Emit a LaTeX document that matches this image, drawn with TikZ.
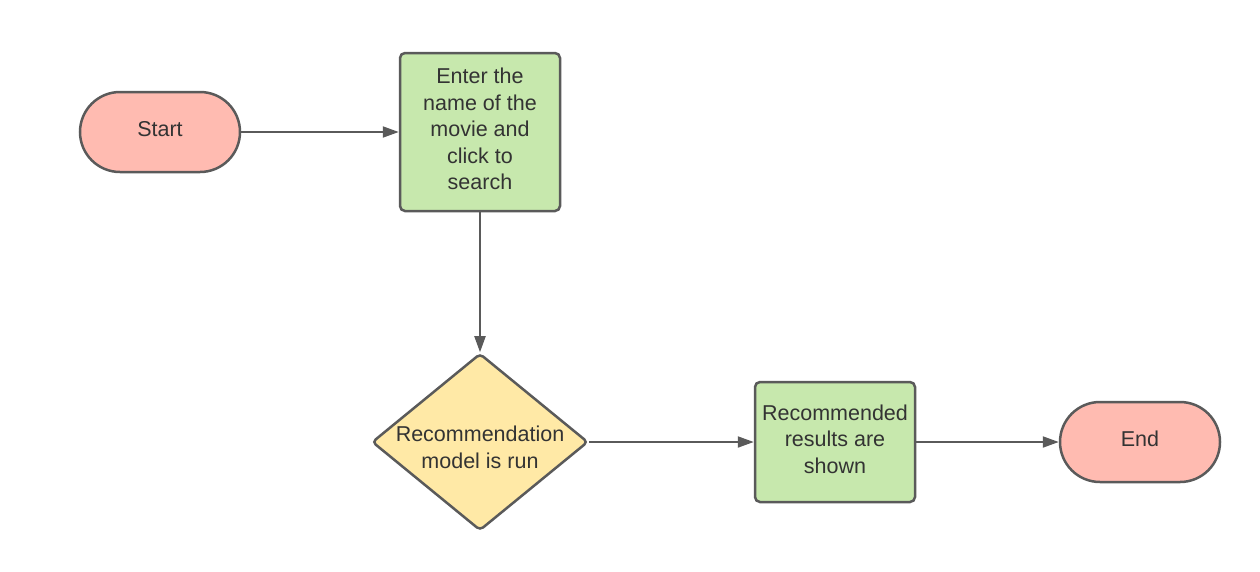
\documentclass[tikz,border=0pt]{standalone}
\usepackage{fontspec}
\setmainfont{Liberation Sans}
\usetikzlibrary{shapes.geometric,arrows.meta}
\definecolor{strokec}{HTML}{5A5A5A}
\definecolor{pinkc}{HTML}{FFBBB1}
\definecolor{greenc}{HTML}{C7E8AD}
\definecolor{yellowc}{HTML}{FFE9A6}
\definecolor{textc}{HTML}{333333}
\begin{document}
\begin{tikzpicture}[x=1pt,y=-1pt,
  base/.style={draw=strokec,line width=2.5pt,inner sep=0pt},
  terminal/.style={base,fill=pinkc,rounded corners=40pt,minimum width=160pt,minimum height=80pt},
  process/.style={base,fill=greenc,rounded corners=5pt,minimum width=160pt},
  decision/.style={base,fill=yellowc,diamond,rounded corners=4pt,minimum width=216pt,minimum height=177pt,aspect=1.22},
  conn/.style={draw=strokec,line width=2pt,-{Triangle[length=16pt,width=11pt]}},
  txt/.style={text=textc,align=center,inner sep=0pt,font=\fontsize{21.5}{26.5}\selectfont}
]
\useasboundingbox (0,0) rectangle (1260,571);
\node[terminal] (start) at (160,132) {};
\node[txt] (startT) at (160,129) {Start};
\node[process,minimum height=158pt] (enter) at (480,132) {};
\node[txt] (enterT) at (480,129) {Enter the\\name of the\\movie and\\click to\\search};
\node[decision] (model) at (480,442) {};
\node[txt] (modelT) at (480,447.5) {Recommendation\\model is run};
\node[process,minimum height=120pt] (results) at (835,442) {};
\node[txt] (resultsT) at (835,439) {Recommended\\results are\\shown};
\node[terminal] (end) at (1140,442) {};
\node[txt] (endT) at (1140,439) {End};
\draw[conn] (start) -- (enter);
\draw[conn] (enter) -- (model);
\draw[conn] (model) -- (results);
\draw[conn] (results) -- (end);
\end{tikzpicture}
\end{document}
